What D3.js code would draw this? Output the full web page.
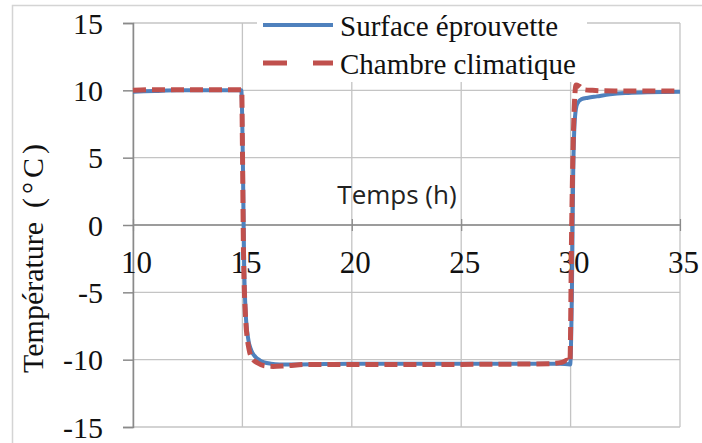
<!DOCTYPE html>
<html><head><meta charset="utf-8">
<script src="https://cdn.jsdelivr.net/npm/d3@7"></script>
<style>
html,body{margin:0;padding:0;background:#fff;}
svg{display:block;}
</style></head>
<body><svg id="c" width="702" height="443"></svg>
<script>
// ---- data ----
const xTicks = [10, 15, 20, 25, 30, 35];
const yTicks = [15, 10, 5, 0, -5, -10, -15];
const seriesNames = ["Surface éprouvette", "Chambre climatique"];
const xTitle = "Temps (h)";
const yTitleMain = "Température";
const yTitleUnit = "(°C)";

const surfaceT = [10, 11, 12, 13, 14, 14.95, 15.02, 15.08, 15.15, 15.25, 15.4, 15.6, 15.8, 16.0, 16.3, 16.7, 17.5, 20, 25, 29.5, 29.98, 30.06, 30.12, 30.2, 30.3, 30.5, 30.8, 31.2, 31.8, 32.5, 33.5, 35];
const surfaceV = [9.9, 9.95, 10, 10, 10, 10, 5, -3, -6.5, -8.3, -9.3, -9.8, -10.05, -10.2, -10.3, -10.35, -10.35, -10.3, -10.3, -10.3, -10.35, -5, 4, 8.0, 9.0, 9.35, 9.45, 9.55, 9.7, 9.8, 9.85, 9.9];

const chamberT = [10, 11, 12, 13, 14, 14.97, 15.0, 15.05, 15.15, 15.3, 15.45, 15.7, 16.0, 16.4, 17, 18, 20, 25, 29, 29.6, 29.85, 29.97, 30.05, 30.15, 30.25, 30.4, 30.6, 31, 32, 35];
const chamberV = [10.0, 10.05, 10.05, 10.05, 10.05, 10.05, 6, -2, -7, -9.2, -9.9, -10.25, -10.45, -10.5, -10.45, -10.35, -10.35, -10.35, -10.3, -10.2, -10.05, -10.2, 0, 8, 10.4, 10.3, 10.05, 10.0, 9.95, 9.95];

// ---- layout ----
const svg = d3.select("#c");
const L = 133, R = 680, T = 23, B = 427;
const x = d3.scaleLinear().domain([10, 35]).range([L, R]);
const y = d3.scaleLinear().domain([-15, 15]).range([B, T]);
const blue = "#4f81bd", red = "#c0504d";
const serif = "'Liberation Serif','Times New Roman',serif";
const fmt = d => String(d);

// outer frame
svg.append("rect").attr("x", 12.5).attr("y", 5.5).attr("width", 800).attr("height", 600)
  .attr("fill", "none").attr("stroke", "#d4d4d4").attr("stroke-width", 1.5);

// gridlines
svg.append("g").selectAll("line").data(yTicks).join("line")
  .attr("x1", L).attr("x2", R).attr("y1", d => y(d)).attr("y2", d => y(d))
  .attr("stroke", "#c4c4c4").attr("stroke-width", 1.3);
svg.append("g").selectAll("line").data(xTicks).join("line")
  .attr("y1", T).attr("y2", B).attr("x1", d => x(d)).attr("x2", d => x(d))
  .attr("stroke", "#c4c4c4").attr("stroke-width", 1.3);

// y axis
const yAxis = d3.axisLeft(y).tickValues(yTicks).tickSize(10).tickPadding(20).tickFormat(fmt);
const gy = svg.append("g").attr("transform", `translate(${L},0)`).call(yAxis);
gy.select(".domain").attr("stroke", "#8a8a8a").attr("stroke-width", 1.5);
gy.selectAll(".tick line").attr("stroke", "#8a8a8a").attr("stroke-width", 1.5);
gy.selectAll(".tick text").attr("font-family", serif).attr("font-size", 30).attr("fill", "#111").attr("dy", "0.34em");

// x axis at y=0 with crossing ticks
const xAxis = d3.axisBottom(x).tickValues(xTicks).tickSize(6).tickPadding(18).tickFormat(fmt);
const gx = svg.append("g").attr("transform", `translate(0,${y(0)})`).call(xAxis);
gx.select(".domain").attr("stroke", "#8a8a8a").attr("stroke-width", 1.5).attr("d", `M${L},0H${R}`);
gx.selectAll(".tick line").attr("y1", -6).attr("y2", 6).attr("stroke", "#8a8a8a").attr("stroke-width", 1.2);
gx.selectAll(".tick text").attr("font-family", serif).attr("font-size", 31).attr("fill", "#111")
  .attr("y", 48).attr("dy", 0).attr("dx", 3);

// lines
const lineGen = d3.line().x(d => x(d[0])).y(d => y(d[1])).curve(d3.curveMonotoneX);
const surfaceData = surfaceT.map((t, i) => [t, surfaceV[i]]);
const chamberData = chamberT.map((t, i) => [t, chamberV[i]]);
svg.append("path").datum(surfaceData).attr("d", lineGen)
  .attr("fill", "none").attr("stroke", blue).attr("stroke-width", 4).attr("stroke-linejoin", "round");
svg.append("path").datum(chamberData).attr("d", lineGen)
  .attr("fill", "none").attr("stroke", red).attr("stroke-width", 5).attr("stroke-dasharray", "13,6");

// x title
svg.append("text").attr("x", 397).attr("y", 204).attr("text-anchor", "middle")
  .attr("font-family", "'Open Sans','Noto Sans',sans-serif").attr("font-size", 26).attr("fill", "#222")
  .text(xTitle);

// y title
const yt = svg.append("text").attr("transform", "translate(43,373) rotate(-90)").attr("text-anchor", "start")
  .attr("font-family", serif).attr("font-size", 30).attr("fill", "#111");
yt.append("tspan").attr("x", 0).text(yTitleMain);
yt.append("tspan").attr("x", 165).attr("textLength", 64).attr("lengthAdjust", "spacing").text(yTitleUnit);

// legend
const lg = svg.append("g");
lg.append("rect").attr("x", 257).attr("y", 8).attr("width", 330).attr("height", 74).attr("fill", "#fff");
lg.append("line").attr("x1", 263).attr("x2", 333).attr("y1", 25).attr("y2", 25)
  .attr("stroke", blue).attr("stroke-width", 4);
lg.append("line").attr("x1", 263).attr("x2", 333).attr("y1", 63).attr("y2", 63)
  .attr("stroke", red).attr("stroke-width", 5).attr("stroke-dasharray", "24,26");
lg.selectAll("text.lt").data(seriesNames).join("text").attr("class", "lt")
  .attr("x", 340).attr("y", (d, i) => 36 + i * 38)
  .attr("font-family", serif).attr("font-size", 29).attr("fill", "#111").text(d => d);
</script></body></html>
